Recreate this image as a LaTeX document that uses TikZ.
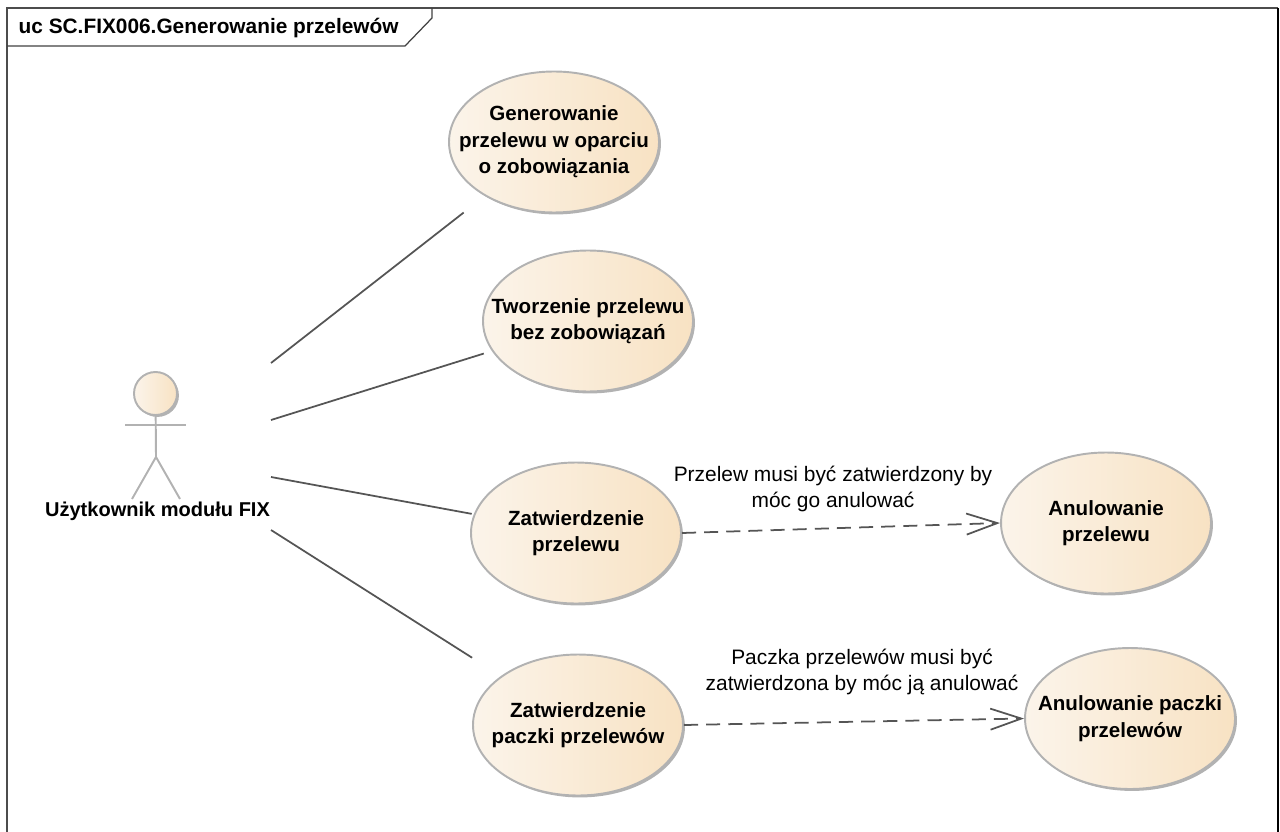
\documentclass[tikz,border=0pt]{standalone}
\usepackage{fontspec}
\setmainfont{Liberation Sans}
\usetikzlibrary{arrows.meta,positioning,shapes,shadows}

\definecolor{ucleft}{HTML}{FBF4EA}
\definecolor{ucright}{HTML}{F8E2C3}
\definecolor{ucedge}{HTML}{B2B2B2}
\definecolor{ucline}{HTML}{555555}

\begin{document}
\begin{tikzpicture}
            \tikzstyle{usecase} = [draw=ucedge,line width=0.55pt,ellipse,minimum width=2.1cm,minimum height=1.41cm,inner xsep=-0.5cm,inner ysep=-0.3cm,
                left color=ucleft,right color=ucright,align=center,font=\fontsize{5.85}{7.5}\selectfont\bfseries,
                drop shadow={shadow xshift=0.55pt,shadow yshift=-0.55pt,fill=ucedge,opacity=1}]
            \tikzstyle{stick} = [draw=ucedge,line width=0.55pt]
            \tikzstyle{assoc} = [draw=ucline,line width=0.5pt]
            \tikzstyle{dep} = [assoc,dash pattern=on 4pt off 2.3pt,-{Straight Barb[length=8.8pt,width=6pt]}]
            \tikzstyle{note} = [align=center,inner sep=0pt,font=\fontsize{5.95}{7.6}\selectfont]

            \useasboundingbox (0,0) rectangle (12.8,8.31);

            % frame and its tab
            \draw[line width=0.45pt,draw=black!70] (0.07,-0.1) |- (12.78,8.23);
            \draw[line width=0.55pt,draw=black] (12.78,8.23) -- (12.78,-0.1);
            \draw[line width=0.35pt,draw=black!75] (4.32,8.23) -- (4.32,8.13) -- (4.05,7.85) -- (0.07,7.85);
            \node[anchor=west,inner sep=0pt,font=\fontsize{5.93}{6}\selectfont\bfseries] (title) at (0.18,8.03) {uc SC.FIX006.Generowanie przelewów};

            % use cases
            \node[usecase] (gen) at (5.54,6.89) {Generowanie\\przelewu w oparciu\\o zobowiązania};
            \node[usecase] (tw) at (5.88,5.10) {Tworzenie przelewu\\bez zobowiązań};
            \node[usecase] (zat) at (5.76,2.98) {Zatwierdzenie\\przelewu};
            \node[usecase] (pac) at (5.78,1.06) {Zatwierdzenie\\paczki przelewów};
            \node[usecase] (anul) at (11.06,3.08) {Anulowanie\\przelewu};
            \node[usecase] (anup) at (11.30,1.125) {Anulowanie paczki\\przelewów};

            % actor
            \node[usecase,circle,minimum width=0.43cm,minimum height=0.43cm,inner sep=0pt] (head) at (1.555,4.375) {};
            \coordinate (hip) at (1.56,3.74);
            \coordinate (armL) at (1.25,4.06);
            \coordinate (armR) at (1.86,4.06);
            \coordinate (legL) at (1.32,3.32);
            \coordinate (legR) at (1.80,3.32);
            \draw[stick] (head) -- (hip);
            \draw[stick] (armL) -- (armR);
            \draw[stick] (legL) -- (hip) -- (legR);
            \node[font=\fontsize{5.7}{6}\selectfont\bfseries,inner sep=0pt] (user) at (1.575,3.20) {Użytkownik modułu FIX};

            % free ends of the associations
            \coordinate (a1) at (2.71,4.68);
            \coordinate (a2) at (2.71,4.11);
            \coordinate (a3) at (2.71,3.54);
            \coordinate (a4) at (2.71,3.01);

            \draw[assoc,shorten >=7.6pt] (a1) -- (gen);
            \draw[assoc,shorten >=2.4pt] (a2) -- (tw);
            \draw[assoc,shorten >=0.6pt] (a3) -- (zat);
            \draw[assoc,shorten >=9.7pt] (a4) -- (pac);

            \draw[dep] (zat.east) -- (anul.west);
            \draw[dep] (pac.east) -- (anup.west);

            \node[note] (n1) at (8.33,3.42) {Przelew musi być zatwierdzony by\\móc go anulować};
            \node[note] (n2) at (8.62,1.59) {Paczka przelewów musi być\\zatwierdzona by móc ją anulować};
        \end{tikzpicture}
\end{document}
